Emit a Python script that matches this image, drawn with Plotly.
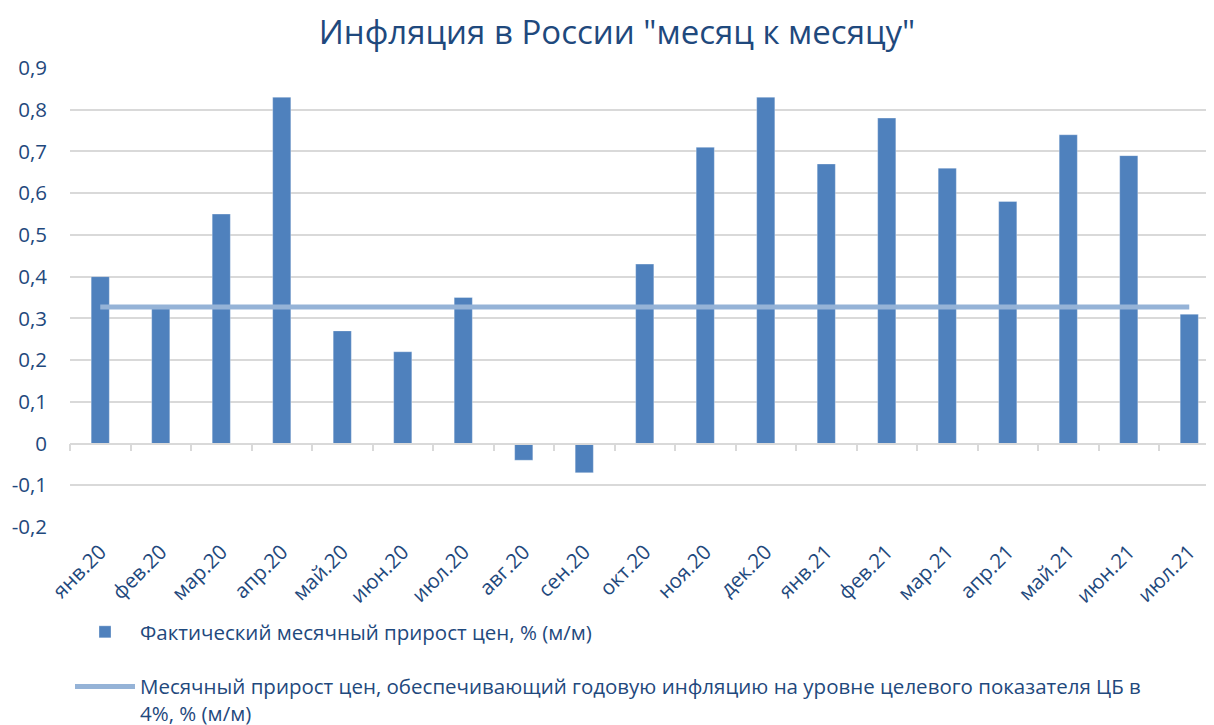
import plotly.graph_objects as go

months = ["янв.20", "фев.20", "мар.20", "апр.20", "май.20", "июн.20", "июл.20", "авг.20", "сен.20",
          "окт.20", "ноя.20", "дек.20", "янв.21", "фев.21", "мар.21", "апр.21", "май.21", "июн.21", "июл.21"]
actual = [0.40, 0.33, 0.55, 0.83, 0.27, 0.22, 0.35, -0.04, -0.07,
          0.43, 0.71, 0.83, 0.67, 0.78, 0.66, 0.58, 0.74, 0.69, 0.31]
target = [0.327] * len(months)
ytick_vals = [-0.2, -0.1, 0, 0.1, 0.2, 0.3, 0.4, 0.5, 0.6, 0.7, 0.8, 0.9]
ytick_text = ["-0,2", "-0,1", "0", "0,1", "0,2", "0,3", "0,4", "0,5", "0,6", "0,7", "0,8", "0,9"]

name_bar = "Фактический месячный прирост цен, % (м/м)"
name_line = "Месячный прирост цен, обеспечивающий годовую инфляцию на уровне целевого показателя ЦБ в<br>4%, % (м/м)"

TXT = "#1F497D"
FONT = "Open Sans"
FS = 20.5

fig = go.Figure()
fig.add_trace(go.Bar(x=months, y=actual, name=name_bar, marker=dict(color="#4F81BD",
                     line=dict(color="rgba(255,255,255,0.4)", width=0.8)),
                     legendgroup="a", xaxis="x", yaxis="y"))
fig.add_trace(go.Scatter(x=months, y=target, name=name_line, mode="lines",
                         line=dict(color="#95B3D7", width=5),
                         legendgroup="b", xaxis="x2", yaxis="y"))

L, T, H = 62, 60, 460
plot_w = 1214 - L
right = plot_w / 60.5 - 0.5

fig.update_layout(
    width=1214, height=725,
    margin=dict(l=L, r=0, t=T, b=725 - T - H),
    paper_bgcolor="white", plot_bgcolor="white",
    separators=", ",
    font=dict(family=FONT, color=TXT, size=FS),
    title=dict(text='Инфляция в России "месяц к месяцу"', x=609 / 1214, xref="container", xanchor="center",
               y=1 - 24 / 725, yref="container", yanchor="middle", font=dict(size=33, color=TXT, family=FONT)),
    bargap=0.7,
    showlegend=True,
    legend=dict(x=0, xanchor="left", y=-0.185, yanchor="top", orientation="v",
                traceorder="grouped", tracegroupgap=25, valign="top",
                font=dict(size=FS, color=TXT), itemwidth=60, bgcolor="rgba(0,0,0,0)"),
    xaxis=dict(type="category", categoryorder="array", categoryarray=months,
               range=[-0.5, right], tickangle=-45, showgrid=False, zeroline=False,
               showline=False, ticks="", ticklabelstandoff=8,
               tickfont=dict(size=FS, color=TXT), domain=[0, 1]),
    xaxis2=dict(type="category", matches="x", overlaying="x", anchor="free",
                position=0.2 / 1.1, showticklabels=False, showgrid=False,
                showline=True, linecolor="#D9D9D9", linewidth=1.5,
                ticks="outside", tickson="boundaries", ticklen=7, tickcolor="#D9D9D9", tickwidth=1.5),
    yaxis=dict(range=[-0.2, 0.9], tickvals=ytick_vals, ticktext=ytick_text,
               showgrid=True, gridcolor="#D9D9D9", gridwidth=1.5, zeroline=False,
               showline=False, ticks="", ticklabelstandoff=22,
               tickfont=dict(size=FS, color=TXT)),
)

fig.write_html("out.html")
